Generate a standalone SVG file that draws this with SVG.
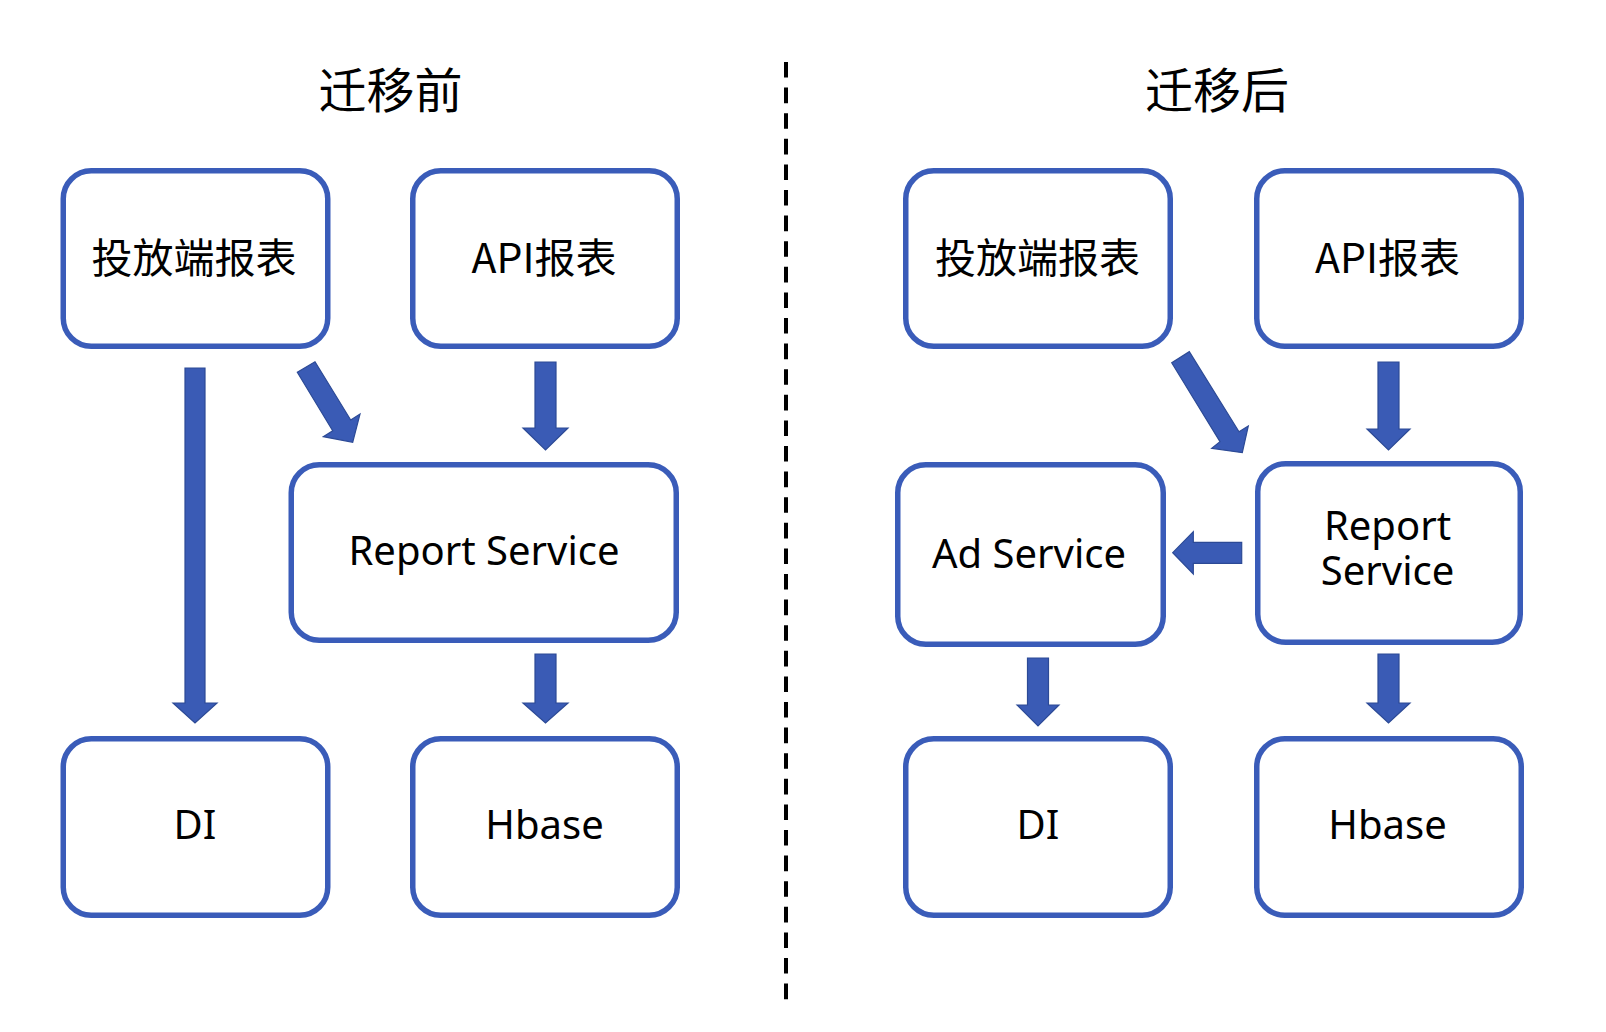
<svg xmlns="http://www.w3.org/2000/svg" width="1606" height="1032" viewBox="0 0 1606 1032">
  <style>
    .box { fill: #ffffff; stroke: #3A5CB9; stroke-width: 5.5; }
    .arrow { fill: #3A5BB5; stroke: #2C4A96; stroke-width: 1.2; stroke-linejoin: miter; }
    .lbl { font-family: "Noto Sans", "Noto Sans CJK SC", sans-serif; font-size: 40px; fill: #000000; text-anchor: middle; }
    .cjk { font-family: "Noto Sans CJK SC", "Noto Sans", sans-serif; font-size: 41px; fill: #000000; text-anchor: middle; }
    .title { font-family: "Noto Sans CJK SC", "Noto Sans", sans-serif; font-size: 48px; fill: #000000; text-anchor: middle; }
  </style>
  <rect x="0" y="0" width="1606" height="1032" fill="#ffffff"/>

  <g id="titles">
    <text class="title" x="390.5" y="108">迁移前</text>
    <text class="title" x="1217" y="108">迁移后</text>
  </g>

  <g id="divider">
    <line x1="786" y1="62" x2="786" y2="1001" stroke="#000000" stroke-width="4" stroke-dasharray="15.6 10"/>
  </g>

  <!-- Left: before migration -->
  <g id="before-toufang">
    <rect class="box" x="63.25" y="170.75" width="264.5" height="175.5" rx="28" ry="28"/>
    <text class="cjk" x="194" y="273">投放端报表</text>
  </g>
  <g id="before-api">
    <rect class="box" x="412.75" y="170.75" width="264.5" height="175.5" rx="28" ry="28"/>
    <text class="cjk" x="544" y="273">API报表</text>
  </g>
  <g id="before-report">
    <rect class="box" x="291.25" y="464.75" width="385" height="175.5" rx="28" ry="28"/>
    <text class="lbl" x="484" y="565">Report Service</text>
  </g>
  <g id="before-di">
    <rect class="box" x="63.25" y="738.75" width="264.5" height="176.5" rx="28" ry="28"/>
    <text class="lbl" x="195" y="839">DI</text>
  </g>
  <g id="before-hbase">
    <rect class="box" x="412.75" y="738.75" width="264.5" height="176.5" rx="28" ry="28"/>
    <text class="lbl" x="544.5" y="839">Hbase</text>
  </g>

  <!-- Right: after migration -->
  <g id="after-toufang">
    <rect class="box" x="905.75" y="170.75" width="264.5" height="175.5" rx="28" ry="28"/>
    <text class="cjk" x="1037.5" y="273">投放端报表</text>
  </g>
  <g id="after-api">
    <rect class="box" x="1256.75" y="170.75" width="264.5" height="175.5" rx="28" ry="28"/>
    <text class="cjk" x="1387.5" y="273">API报表</text>
  </g>
  <g id="after-ad">
    <rect class="box" x="897.75" y="464.75" width="265.5" height="179.5" rx="28" ry="28"/>
    <text class="lbl" x="1029" y="568">Ad Service</text>
  </g>
  <g id="after-report">
    <rect class="box" x="1257.75" y="463.75" width="262.5" height="178.5" rx="28" ry="28"/>
    <text class="lbl" x="1387.5" y="540">Report<tspan x="1387.5" y="585">Service</tspan></text>
  </g>
  <g id="after-di">
    <rect class="box" x="905.75" y="738.75" width="264.5" height="176.5" rx="28" ry="28"/>
    <text class="lbl" x="1038" y="839">DI</text>
  </g>
  <g id="after-hbase">
    <rect class="box" x="1256.75" y="738.75" width="264.5" height="176.5" rx="28" ry="28"/>
    <text class="lbl" x="1387.5" y="839">Hbase</text>
  </g>

  <g id="connectors">
    <!-- before -->
    <polygon class="arrow" points="185,368 205,368 205,703 217,703 195,723 173,703 185,703"/>
    <polygon class="arrow" points="297.3,372.3 315,361.7 350.7,420 360,414 352.7,442.3 323.3,436.7 332.7,430.7"/>
    <polygon class="arrow" points="535,362 556,362 556,428 568,428 545.5,450 523,428 535,428"/>
    <polygon class="arrow" points="535,654 556,654 556,703 568,703 545.5,723 523,703 535,703"/>
    <!-- after -->
    <polygon class="arrow" points="1171.7,362.7 1189.3,351.7 1239,431.7 1248.3,426 1242.3,452.7 1211.7,448.3 1220,441.7"/>
    <polygon class="arrow" points="1378,362 1399,362 1399,429 1410,429 1388.5,450 1367,429 1378,429"/>
    <polygon class="arrow" points="1241.7,542.3 1241.7,563.3 1193.3,563.3 1193.3,574 1172.7,552.7 1193.3,531.7 1193.3,542.3"/>
    <polygon class="arrow" points="1027.5,658 1048.5,658 1048.5,705 1059,705 1038,726 1017,705 1027.5,705"/>
    <polygon class="arrow" points="1378,654 1399,654 1399,703 1410,703 1388.5,723 1367,703 1378,703"/>
  </g>
</svg>
